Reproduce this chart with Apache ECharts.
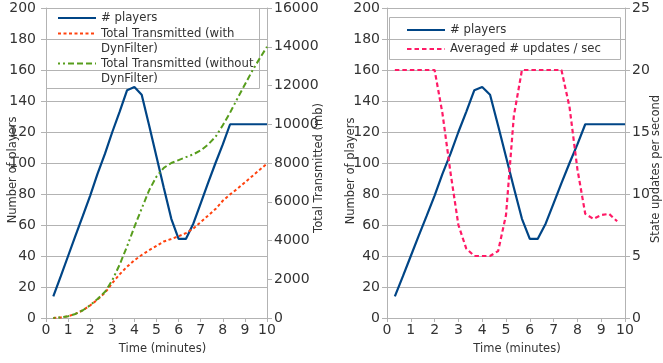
<!DOCTYPE html>
<html>
<head>
<meta charset="utf-8">
<script src="https://cdn.jsdelivr.net/npm/echarts@6/dist/echarts.min.js"></script>
<style>
html, body { margin: 0; padding: 0; background: #fff; }
#chart { width: 663px; height: 363px; }
</style>
</head>
<body>
<div id="chart"></div>
<script>
// one sample every 20 s (minutes)
const times = [0.33, 0.67, 1, 1.33, 1.67, 2, 2.33, 2.67, 3, 3.33, 3.67, 4, 4.33, 4.67, 5,
  5.33, 5.67, 6, 6.33, 6.67, 7, 7.33, 7.67, 8, 8.33, 8.67, 9, 9.33, 9.67, 10];

const players = [14, 27, 40, 53, 66, 79, 93, 106, 120, 133, 147, 149, 144, 124, 104,
  84, 64, 51, 51, 61, 74, 87, 100, 112, 125, 125, 125, 125, 125, 125];

// total transmitted (mb)
const sentWithFilter = [0, 30, 90, 210, 400, 650, 950, 1300, 1800, 2250, 2650, 2980, 3250, 3500, 3720,
  3950, 4080, 4220, 4380, 4620, 4950, 5280, 5620, 6050, 6380, 6680, 7000, 7320, 7650, 7970];
const sentWithoutFilter = [0, 30, 90, 210, 400, 660, 980, 1350, 1950, 2750, 3700, 4700, 5650, 6600, 7300,
  7750, 8000, 8150, 8300, 8450, 8650, 8950, 9350, 9950, 10600, 11350, 12050, 12750, 13400, 14000];

// averaged state updates per second (last sample at 9.67 min)
const updatesPerSec = [20, 20, 20, 20, 20, 20, 16.5, 11.7, 7.5, 5.6, 5, 5, 5, 5.4, 8.3,
  16.3, 20, 20, 20, 20, 20, 20, 17, 12, 8.4, 8, 8.3, 8.4, 7.8];

const xTicks = [0, 10, 1];          // min, max, step
const playerTicks = [0, 200, 20];
const sentTicks = [0, 16000, 2000];
const updateTicks = [0, 25, 5];

const names = {
  players: "# players",
  withF: "Total Transmitted (with DynFilter)",
  withoutF: "Total Transmitted (without DynFilter)",
  updates: "Averaged # updates / sec"
};
// the leading blank line keeps the first text line level with the legend line
const legendText = {
  "# players": "# players",
  "Total Transmitted (with DynFilter)": "\nTotal Transmitted (with\nDynFilter)",
  "Total Transmitted (without DynFilter)": "\nTotal Transmitted (without\nDynFilter)",
  "Averaged # updates / sec": "Averaged # updates / sec"
};

const axisColor = "#b3b3b3";
const textColor = "#333333";
const font = "DejaVu Sans";

const pairs = (ys) => ys.map((y, i) => [times[i], y]);

function xAxisOpt(gridIndex, namePad) {
  return {
    type: "value", gridIndex,
    min: xTicks[0], max: xTicks[1], interval: xTicks[2],
    name: "Time (minutes)", nameLocation: "middle", nameGap: 25, nameMoveOverlap: false,
    nameTextStyle: { color: textColor, fontFamily: font, fontSize: 11.5, padding: [0, 0, 0, namePad] },
    axisLine: { show: true, lineStyle: { color: axisColor, width: 1 } },
    axisTick: { show: true, inside: false, length: 4, lineStyle: { color: axisColor } },
    axisLabel: { color: textColor, fontFamily: font, fontSize: 14, margin: 5, formatter: (v) => String(v) },
    splitLine: { show: false }
  };
}

function yAxisOpt(gridIndex, position, ticks, name, nameGap, namePad, labelMargin, grid) {
  return {
    type: "value", gridIndex, position,
    min: ticks[0], max: ticks[1], interval: ticks[2],
    name, nameLocation: "middle", nameGap, nameRotate: 90, nameMoveOverlap: false,
    nameTextStyle: { color: textColor, fontFamily: font, fontSize: 11.5, padding: [0, namePad, 0, 0] },
    axisLine: { show: true, lineStyle: { color: axisColor, width: 1 } },
    axisTick: { show: true, inside: false, length: 5, lineStyle: { color: axisColor } },
    axisLabel: { color: textColor, fontFamily: font, fontSize: 14, margin: labelMargin, formatter: (v) => String(v) },
    splitLine: { show: grid, lineStyle: { color: axisColor, width: 1 } }
  };
}

function legendOpt(name, left, top) {
  return {
    data: [name], left, top, orient: "vertical",
    padding: 0, itemWidth: 38, itemHeight: 10, itemGap: 0,
    selectedMode: false,
    formatter: (n) => legendText[n],
    // hide the marker the line series puts in the middle of its legend icon
    itemStyle: { color: "rgba(0,0,0,0)", borderWidth: 0, opacity: 0 },
    textStyle: { color: textColor, fontFamily: font, fontSize: 11.7, lineHeight: 15 }
  };
}

function lineSeries(name, xi, yi, data, color, width, type) {
  return {
    name, type: "line", xAxisIndex: xi, yAxisIndex: yi, data,
    symbol: "none", smooth: false,
    lineStyle: { color, width, type },
    itemStyle: { color },
    emphasis: { disabled: true }
  };
}

const chart = echarts.init(document.getElementById("chart"));

const option = {
  animation: false,
  backgroundColor: "#fff",
  grid: [
    { left: 46, right: 396, top: 8, bottom: 45, outerBoundsMode: "none" },
    { left: 387, right: 38, top: 8, bottom: 45, outerBoundsMode: "none" }
  ],
  xAxis: [xAxisOpt(0, 12), xAxisOpt(1, 22)],
  yAxis: [
    yAxisOpt(0, "left", playerTicks, "Number of players", 27, 14, 10, true),
    yAxisOpt(0, "right", sentTicks, "Total Transmitted (mb)", 46, 10, 7, false),
    yAxisOpt(1, "left", playerTicks, "Number of players", 30, 16, 7, true),
    yAxisOpt(1, "right", updateTicks, "State updates per second", 25, 12, 7, false)
  ],
  legend: [
    legendOpt(names.players, 57, 10.5),
    legendOpt(names.withF, 57, 11),
    legendOpt(names.withoutF, 57, 41),
    legendOpt(names.players, 406, 22.5),
    legendOpt(names.updates, 406, 41.5)
  ],
  // legend frames
  graphic: [
    { type: "rect", silent: true, shape: { x: 46.5, y: 8.5, width: 213, height: 80 },
      style: { fill: null, stroke: axisColor, lineWidth: 1 } },
    { type: "rect", silent: true, shape: { x: 389.5, y: 17.5, width: 231, height: 42 },
      style: { fill: null, stroke: axisColor, lineWidth: 1 } }
  ],
  series: [
    lineSeries(names.players, 0, 0, pairs(players), "#004586", 2.2, "solid"),
    lineSeries(names.withF, 0, 1, pairs(sentWithFilter), "#ff420e", 2, [3, 2.5]),
    lineSeries(names.withoutF, 0, 1, pairs(sentWithoutFilter), "#579d1c", 2, [2, 3, 2, 3, 6, 3, 6, 3, 6, 3]),
    lineSeries(names.players, 1, 2, pairs(players), "#004586", 2.2, "solid"),
    lineSeries(names.updates, 1, 3, pairs(updatesPerSec), "#ff1a66", 2.2, [4.5, 3])
  ]
};

chart.setOption(option);
</script>
</body>
</html>
